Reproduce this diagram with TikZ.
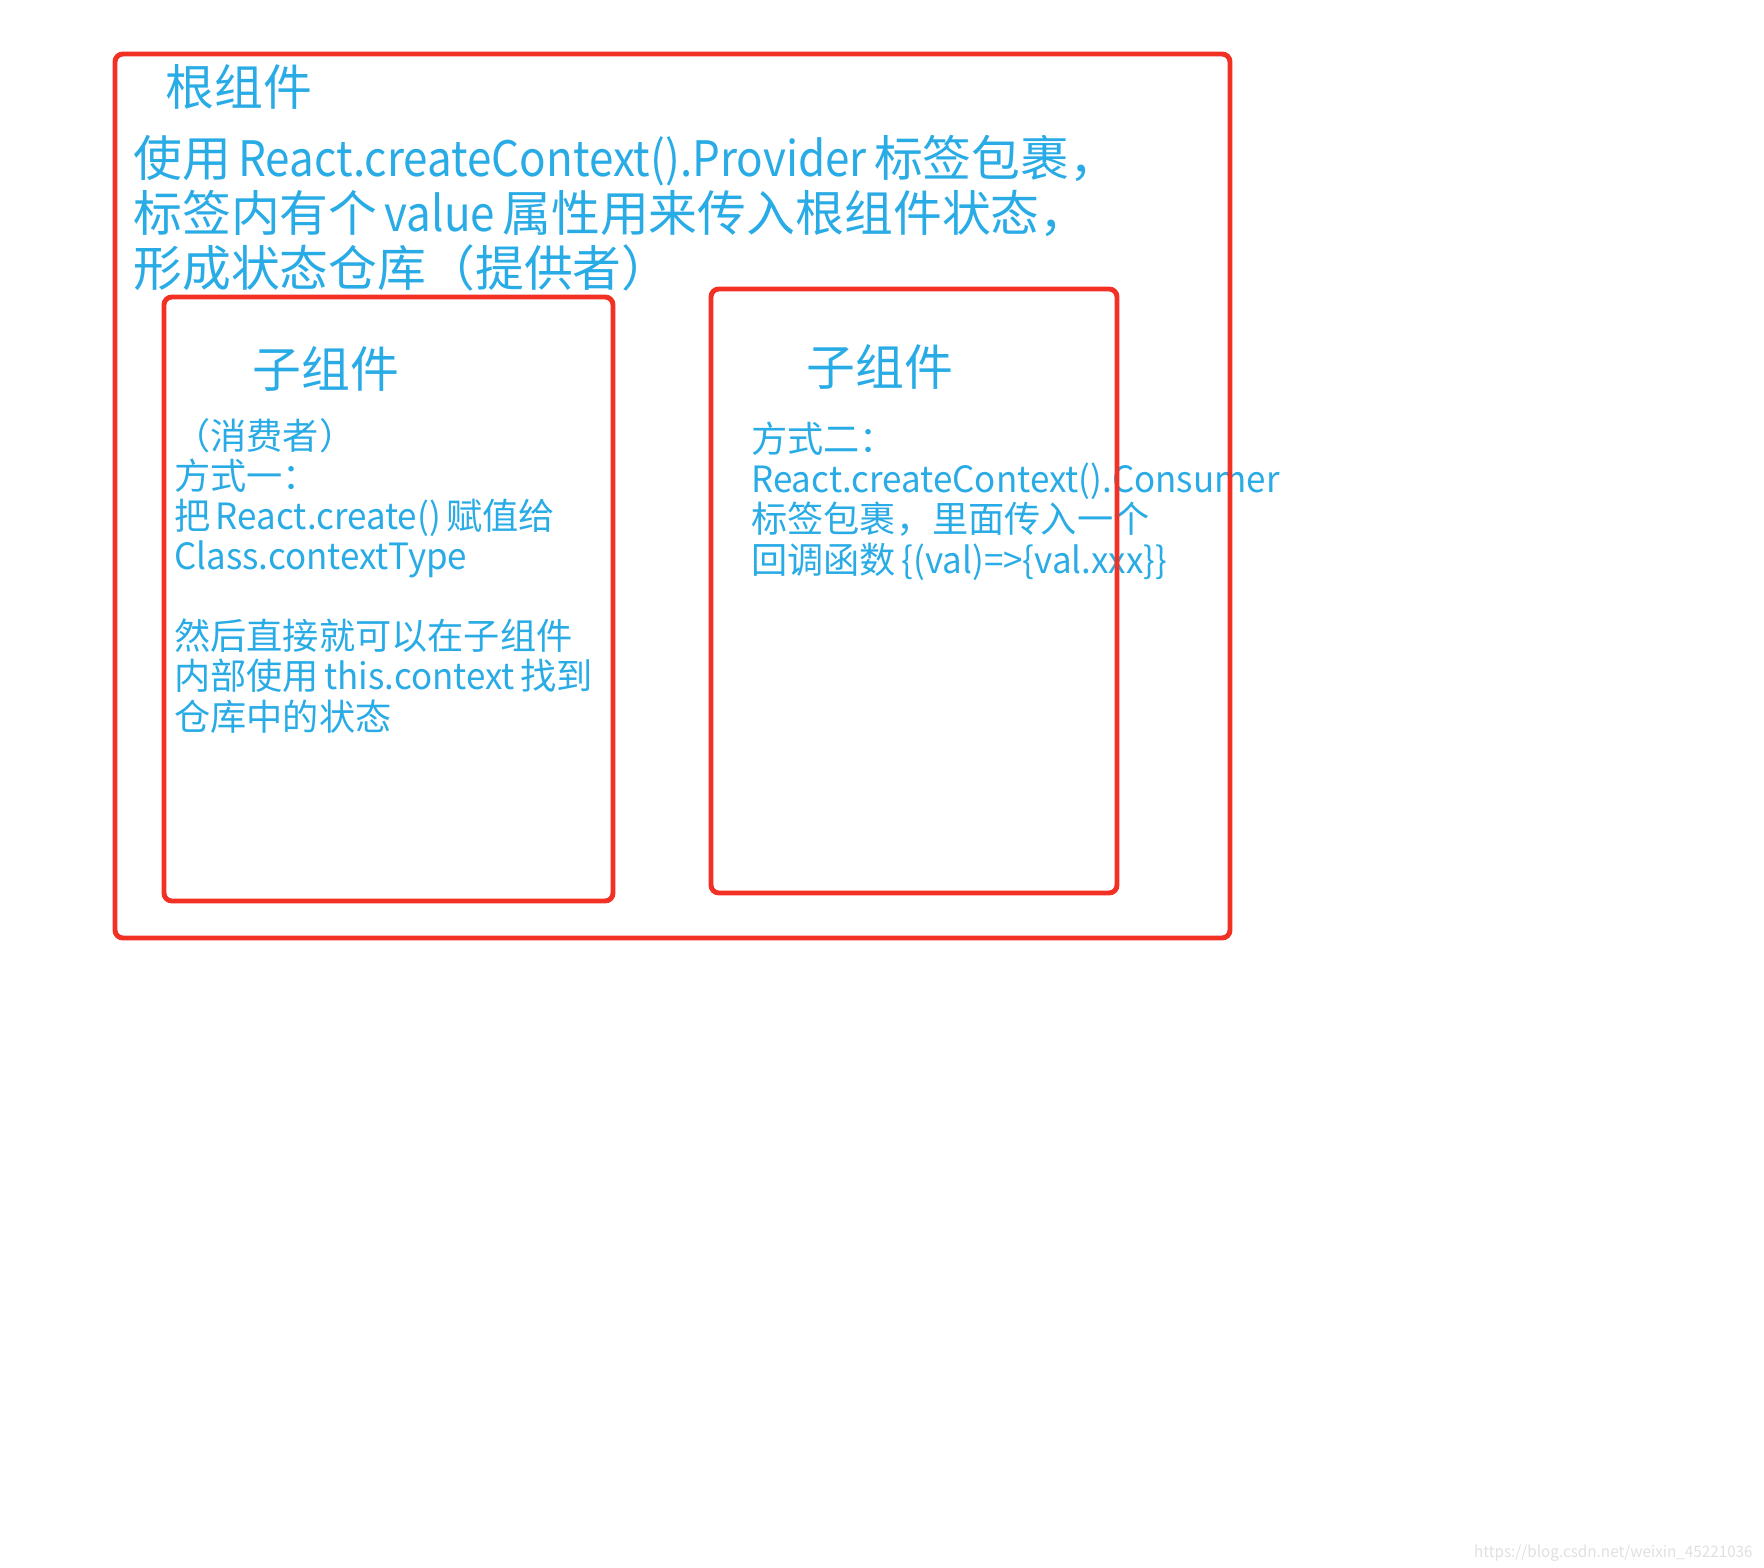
\documentclass[tikz,border=0pt]{standalone}
\usepackage{fontspec}
\setmainfont{Noto Sans CJK SC}
\newfontfamily\rootlatin[FakeStretch=0.9]{Noto Sans CJK SC}
\newfontfamily\sublatin[FakeStretch=0.965]{Noto Sans CJK SC}
\usetikzlibrary{positioning}

\definecolor{textblue}{RGB}{41,171,230}
\definecolor{boxred}{RGB}{242,48,36}

\tikzset{
  bluetext/.style={text=textblue, inner sep=0pt, anchor=base west, align=left},
  bigtext/.style={bluetext, font=\fontsize{27.8pt}{31.2pt}\selectfont},
  smalltext/.style={bluetext, font=\fontsize{20.6pt}{22.8pt}\selectfont},
  redbox/.style={draw=boxred, line width=2.8pt, rounded corners=4.5pt}
}

\begin{document}
\begin{tikzpicture}[x=0.02cm, y=-0.02cm]
        \useasboundingbox (0,0) rectangle (1764,1568);

        % Root component text (base = last line)
        \node[bigtext] (roottitle) at (165,106) {根组件};
        \node[bigtext] (provider) at (133,286) {使用\hspace{0.15em}{\rootlatin React.createContext().Provider}\hspace{0.15em}标签包裹，\\标签内有个\hspace{0.15em}{\rootlatin value}\hspace{0.15em}属性用来传入根组件状态，\\形成状态仓库（提供者）};

        % Child component, way one
        \node[bigtext] (lefttitle) at (252,387) {子组件};
        \node[smalltext] (wayone) at (174,730) {（消费者）\\方式一：\\把\hspace{0.15em}{\sublatin React.create()}\hspace{0.15em}赋值给\\{\sublatin Class.contextType}\\[22.8pt]然后直接就可以在子组件\\内部使用\hspace{0.15em}{\sublatin this.context}\hspace{0.15em}找到\\仓库中的状态};

        % Child component, way two
        \node[bigtext] (righttitle) at (806,385) {子组件};
        \node[smalltext] (waytwo) at (751,573) {方式二：\\{\sublatin React.createContext().Consumer}\\标签包裹，里面传入一个\\回调函数\hspace{0.15em}{\sublatin \{(val)=>\{val.xxx\}\}}};

        % Boxes
        \draw[redbox] (115,54) rectangle (1230,938);
        \draw[redbox] (164,297) rectangle (613,901);
        \draw[redbox] (711,289) rectangle (1117,893);

        % Watermark
        \node[text=black!12, inner sep=0pt, anchor=base east, font=\sublatin\fontsize{9pt}{11pt}\selectfont] (mark) at (1753,1557) {https://blog.csdn.net/weixin\_45221036};
\end{tikzpicture}
\end{document}
